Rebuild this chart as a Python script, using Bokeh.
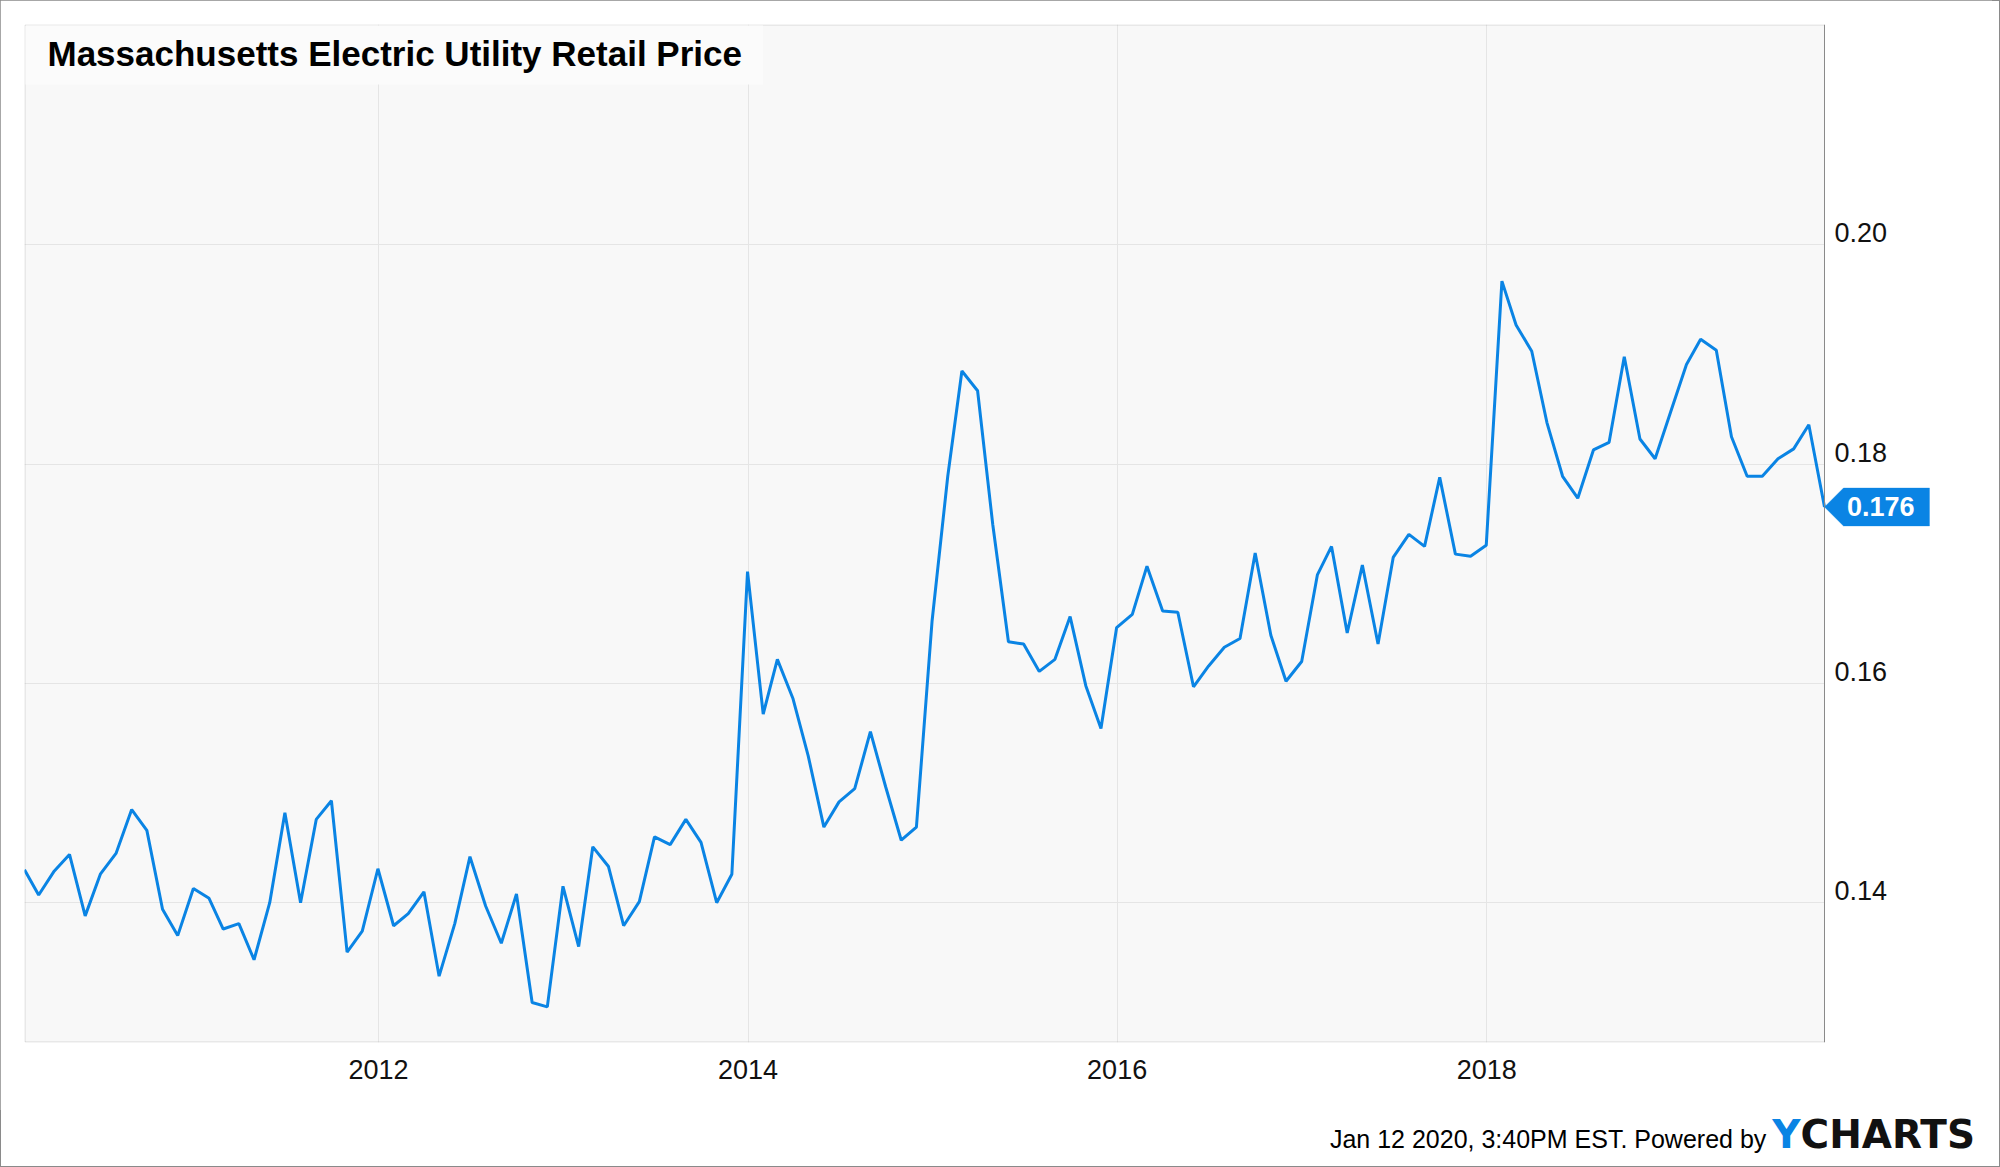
from datetime import datetime
import calendar

from bokeh.plotting import figure
from bokeh.layouts import column
from bokeh.models import (Range1d, FixedTicker, CustomJSTickFormatter, Label, Grid, Div,
                          BoxAnnotation, PolyAnnotation, ColumnDataSource)
from bokeh.embed import file_html
from bokeh.resources import INLINE

# ---------------- data ----------------
title_text = "Massachusetts Electric Utility Retail Price"
footer_text = "Jan 12 2020, 3:40PM EST. Powered by"
brand_first = "Y"
brand_rest = "CHARTS"

start_year = 2010
prices_2010 = [0.1430, 0.1407, 0.1429, 0.1444, 0.1388, 0.1426, 0.1445, 0.1485, 0.1466, 0.1394, 0.1370, 0.1413]
prices_2011 = [0.1404, 0.1376, 0.1381, 0.1348, 0.1400, 0.1482, 0.1400, 0.1476, 0.1493, 0.1355, 0.1374, 0.1431]
prices_2012 = [0.1379, 0.1390, 0.1410, 0.1333, 0.1381, 0.1442, 0.1397, 0.1363, 0.1408, 0.1309, 0.1305, 0.1415]
prices_2013 = [0.1360, 0.1451, 0.1433, 0.1379, 0.1401, 0.1460, 0.1453, 0.1476, 0.1455, 0.1400, 0.1426, 0.1702]
prices_2014 = [0.1572, 0.1622, 0.1586, 0.1534, 0.1469, 0.1492, 0.1504, 0.1556, 0.1506, 0.1457, 0.1469, 0.1657]
prices_2015 = [0.1789, 0.1885, 0.1867, 0.1745, 0.1638, 0.1636, 0.1611, 0.1622, 0.1661, 0.1598, 0.1559, 0.1651]
prices_2016 = [0.1663, 0.1707, 0.1666, 0.1665, 0.1597, 0.1616, 0.1633, 0.1641, 0.1719, 0.1644, 0.1602, 0.1620]
prices_2017 = [0.1699, 0.1725, 0.1646, 0.1708, 0.1636, 0.1715, 0.1736, 0.1725, 0.1788, 0.1718, 0.1716, 0.1726]
prices_2018 = [0.1967, 0.1927, 0.1903, 0.1838, 0.1789, 0.1769, 0.1813, 0.1820, 0.1898, 0.1823, 0.1805, 0.1848]
prices_2019 = [0.1891, 0.1914, 0.1904, 0.1825, 0.1789, 0.1789, 0.1805, 0.1814, 0.1836, 0.1761]

x_tick_years = [2012, 2014, 2016, 2018]
y_ticks = [0.14, 0.16, 0.18, 0.20]

yearly = [prices_2010, prices_2011, prices_2012, prices_2013, prices_2014,
          prices_2015, prices_2016, prices_2017, prices_2018, prices_2019]
dates, prices = [], []
for i, vals in enumerate(yearly):
    y = start_year + i
    for m, v in enumerate(vals, start=1):
        dates.append(datetime(y, m, calendar.monthrange(y, m)[1]))
        prices.append(v)

# ---------------- layout / style ----------------
DATA_W = 1800          # px from plot-area left to the last data point
FRAME_W, FRAME_H = 1908, 1018
Y_LO, Y_HI = 0.12725, 0.22011
LINE_BLUE = "#0a84e4"
FONT = "Liberation Sans"
BORDER = "#8a8a8a"


def ms(d):
    return (d - datetime(1970, 1, 1)).total_seconds() * 1000.0


x0, x1 = ms(dates[0]), ms(dates[-1])
ms_per_px = (x1 - x0) / DATA_W
val_per_px = (Y_HI - Y_LO) / FRAME_H


def xd(px):  # px from plot-area left -> data
    return x0 + px * ms_per_px


def yd(px):  # px from plot-area top -> data
    return Y_HI - px * val_per_px


p = figure(frame_width=FRAME_W, frame_height=FRAME_H,
           x_axis_type="datetime", y_axis_location="right",
           x_range=Range1d(x0, xd(FRAME_W)), y_range=Range1d(Y_LO, Y_HI),
           toolbar_location=None, output_backend="svg",
           min_border_left=24, min_border_right=60,
           min_border_top=24, min_border_bottom=68,
           background_fill_color="white", border_fill_color="white",
           outline_line_color=None)

# plot area background
p.add_layout(BoxAnnotation(left=x0, right=x1, bottom=Y_LO, top=Y_HI,
                           fill_color="#f8f8f8", fill_alpha=1.0,
                           line_color=None, level="image"))

# grids
p.xgrid[0].ticker = FixedTicker(ticks=[ms(datetime(yr, 1, 1)) for yr in x_tick_years])
p.ygrid[0].ticker = FixedTicker(ticks=y_ticks)
for g in (p.xgrid[0], p.ygrid[0]):
    g.grid_line_color = "#e5e5e5"
    g.grid_line_width = 1
if "cross_bounds" in Grid.properties():
    p.ygrid[0].cross_bounds = (x0, x1)
else:
    p.ygrid[0].visible = False
    p.segment(x0=[x0] * len(y_ticks), y0=y_ticks, x1=[x1] * len(y_ticks), y1=y_ticks,
              line_color="#e5e5e5", line_width=1, level="underlay")

# plot area border (inset half a pixel so it is not clipped by the frame)
p.add_layout(BoxAnnotation(left=xd(0.5), right=x1, bottom=yd(FRAME_H - 0.5), top=yd(0.5),
                           fill_alpha=0.0, line_color=BORDER, line_width=1,
                           level="underlay"))

# x axis
xa = p.xaxis[0]
xa.ticker = FixedTicker(ticks=[ms(datetime(yr, 1, 1)) for yr in x_tick_years])
xa.formatter = CustomJSTickFormatter(code="return String(new Date(tick).getUTCFullYear());")
xa.major_label_standoff = 17
xa.axis_line_color = None

# y axis, drawn at the last data point (labels sit just above their grid lines)
lab_shift = 12 * val_per_px
ya = p.yaxis[0]
ya.fixed_location = x1
ya.ticker = FixedTicker(ticks=[t + lab_shift for t in y_ticks])
ya.formatter = CustomJSTickFormatter(args=dict(off=lab_shift),
                                     code="return (tick - off).toFixed(2);")
ya.major_label_standoff = 10
ya.axis_line_color = BORDER
ya.axis_line_width = 1

for ax in (xa, ya):
    ax.major_tick_line_color = None
    ax.minor_tick_line_color = None
    ax.major_tick_out = 0
    ax.major_tick_in = 0
    ax.major_label_text_font = FONT
    ax.major_label_text_font_size = "27px"
    ax.major_label_text_color = "#111111"

# series
src = ColumnDataSource(dict(date=dates, price=prices))
p.line("date", "price", source=src, line_color=LINE_BLUE, line_width=3)

# title box + title
p.add_layout(BoxAnnotation(left=xd(1), right=xd(738.5), top=yd(1), bottom=yd(60),
                           fill_color="#fbfbfb", fill_alpha=1.0, line_color=None,
                           level="annotation"))
p.add_layout(Label(x=xd(23), y=yd(28.5), text=title_text,
                   text_font=FONT, text_font_style="bold", text_font_size="35px",
                   text_color="#000000", text_baseline="middle", text_align="left"))

# last-value tag
last_v = prices[-1]
h = 19 * val_per_px
p.add_layout(PolyAnnotation(
    xs=[x1, xd(DATA_W + 19), xd(DATA_W + 105), xd(DATA_W + 105), xd(DATA_W + 19)],
    ys=[last_v, last_v + h, last_v + h, last_v - h, last_v - h],
    fill_color=LINE_BLUE, fill_alpha=1.0, line_color=LINE_BLUE, line_width=1))
p.add_layout(Label(x=xd(DATA_W + 22.5), y=last_v, text=f"{last_v:.3f}",
                   text_font=FONT, text_font_style="bold", text_font_size="27px",
                   text_color="white", text_baseline="middle", text_align="left"))

# footer
footer_html = (
    '<div style="display:flex; justify-content:flex-end; align-items:baseline; '
    'box-sizing:border-box; width:2000px; height:57px; padding:5px 25px 0 0; '
    'white-space:nowrap; color:#000;">'
    f'<span style="font-family:\'Liberation Sans\'; font-size:25px; line-height:1;">{footer_text}</span>'
    f'<span style="font-family:\'DejaVu Sans\'; font-weight:bold; font-size:39px; line-height:1; '
    f'color:{LINE_BLUE}; margin-left:6px;">{brand_first}</span>'
    f'<span style="font-family:\'DejaVu Sans\'; font-weight:bold; font-size:39px; line-height:1; '
    f'color:#111;">{brand_rest}</span>'
    '</div>'
)
footer = Div(text=footer_html, width=2000, height=57, margin=(0, 0, 0, 0))

layout = column(p, footer, spacing=0,
                styles={"outline": f"1px solid {BORDER}", "outline-offset": "-1px"})
open("out.html", "w").write(file_html(layout, INLINE))
